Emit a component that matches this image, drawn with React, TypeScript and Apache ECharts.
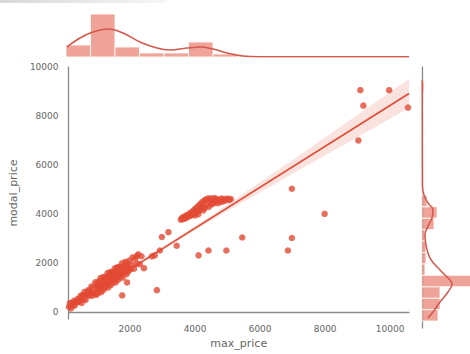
import React, { useEffect, useRef } from "react";
import * as echarts from "echarts";

// ---- data ----
const xRange = [107, 10580];
const yRange = [-275, 10000];

const lowCluster: number[][] = [
  [120,228],[150,375],[180,162],[210,369],[240,276],[270,471],[300,282],[330,441],[360,420],[390,555],
  [420,426],[450,525],[480,672],[510,379],[540,706],[570,533],[600,840],[630,507],[660,754],[690,701],
  [720,908],[750,675],[780,822],[810,1049],[840,676],[870,1003],[900,780],[930,1227],[960,714],[990,1071],
  [1010,969],[1030,1257],[1050,885],[1070,1083],[1090,1401],[1110,819],[1130,1287],[1150,1005],[1170,1443],[1190,921],
  [1210,1269],[1230,1167],[1250,1455],[1270,1083],[1290,1281],[1310,1599],[1330,1017],[1350,1485],[1370,1203],[1390,1641],
  [1410,1119],[1430,1467],[1450,1365],[1470,1653],[1490,1281],[1510,1479],[1530,1797],[1550,1215],[1570,1683],[1590,1401],
  [1610,1839],[1630,1317],[1650,1665],[1670,1563],[1690,1851],[1710,1479],[1730,1677],[1750,1995],[1770,1413],[1800,1890],
  [1830,1617],[1860,2064],[1890,1551],[1920,1908],[1950,1815],[1980,2112],[2010,1749],[2040,1956],[2080,2242],[2120,1778],
  [2160,2189],[2200,1975],[2250,2370],[2300,1965],[2350,2285],
  [980,1152],[1040,956],[1100,1160],[1160,1344],[1220,1018],[1280,1372],[1340,1306],[1400,1580],[1460,1214],[1520,1608],
  [1580,1462],[1640,1826],[1700,1530],[1760,1794],[1820,1728],[1880,1992],[1940,1666],[700,850],[820,778],[560,684],[1000,770]
];

const outliers: number[][] = [
  [1756,690],[1908,1220],[2824,905],[2214,2300],[2672,2283],[2427,1800],[2977,3070],[3180,3268],[3435,2716],[2916,2520],
  [2760,2323],[4107,2323],[4412,2520],[4962,2520],[5450,3050],[6977,5040],[7985,4016],[6977,3031],[6855,2520],
  [9084,9055],[9970,9055],[9176,8425],[10550,8346],[9023,7008]
];

const midCluster: number[][] = [
  [3560,3780],[3600,3850],[3630,3800],[3660,3900],[3700,3830],[3730,3950],[3760,3880],[3790,3990],[3820,3920],[3850,4050],
  [3880,3950],[3910,4100],[3940,4000],[3970,4180],[4000,4050],[4030,4250],[4060,4100],[4090,4320],[4120,4150],[4150,4400],
  [4180,4200],[4210,4480],[4240,4300],[4270,4550],[4300,4250],[4330,4600],[4360,4400],[4390,4640],[4420,4300],[4450,4520],
  [4480,4650],[4510,4400],[4540,4600],[4570,4450],[4600,4660],[4630,4500],[4660,4620],[4700,4450],[4740,4600],[4780,4500],
  [4820,4640],[4860,4520],[4900,4620],[4950,4560],[5000,4640],[5050,4580],[5100,4620],[4100,4000],[4000,3950],[4250,4150]
];

const regX = [107, 10580];
const regY = [185, 8920];
const bandX = [107, 1500, 3000, 4500, 6000, 7500, 9000, 10580];
const bandLo = [75, 1277, 2538, 3749, 4900, 6031, 7152, 8330];
const bandHi = [295, 1417, 2658, 3949, 5300, 6671, 8052, 9510];

// top marginal (max_price)
const topBinStart = 107;
const topBinWidth = 748;
const topCounts = [24, 86, 20, 8, 8, 30, 6, 2, 1, 1, 1, 1, 2, 2];
const topKdeX = [137, 534, 931, 1389, 1847, 2366, 2885, 3282, 3802, 4198, 4595, 5023, 5511, 6031, 8000, 10580];
const topKdeY = [20, 38, 50, 56, 48, 30, 18, 14, 18, 20, 16, 8, 2, 0.6, 0.5, 0.4];

// right marginal (modal_price)
const rightBinStart = 0;
const rightBinWidth = 450;
const rightCounts = [32, 36, 36, 110, 6, 8, 8, 6, 24, 30, 10, 2, 0, 0, 0, 2, 0, 0, 2, 0, 4];
const rightKdeY = [118, 354, 748, 1142, 1457, 1614, 2008, 2480, 2992, 3386, 3740, 4055, 4370, 4646, 4961, 5354, 7000, 9500];
const rightKdeX = [12, 22, 36, 52, 60, 56, 36, 16, 8, 6, 12, 20, 22, 12, 4, 0.8, 0.6, 0.5];

const tickLabels = [2000, 4000, 6000, 8000, 10000];

const RED = "#E24A33";
const HIST = "rgba(226,74,51,0.5)";
const KDE = "#d3574a";
const AXIS = "#8a8a8a";
const LABEL = "#666";

export default function App() {
  const ref = useRef<HTMLDivElement>(null);
  useEffect(() => {
    if (!ref.current) return;
    const chart = echarts.init(ref.current, null, { renderer: "svg" });
    const fmt = (v: number) => (tickLabels.indexOf(v) >= 0 || v === 0 ? String(v) : "");
    const topData = topCounts.map((c, i) => [topBinStart + i * topBinWidth, topBinStart + (i + 1) * topBinWidth, c]);
    const rightData = rightCounts.map((c, i) => [rightBinStart + i * rightBinWidth, rightBinStart + (i + 1) * rightBinWidth, c]);
    const scatterPoints = lowCluster.concat(midCluster, outliers);
    const option: any = {
      animation: false,
      grid: [
        { left: 66, top: 67, width: 343, height: 261 },
        { left: 66, top: 10, width: 343, height: 47 },
        { left: 422, top: 67, width: 60, height: 261 },
      ],
      xAxis: [
        {
          gridIndex: 0, type: "value", min: xRange[0], max: xRange[1],
          name: "max_price", nameLocation: "middle", nameGap: 15,
          nameTextStyle: { color: LABEL, fontSize: 11, fontFamily: "DejaVu Sans" },
          axisLine: { show: true, lineStyle: { color: AXIS, width: 1.3 } },
          axisTick: { show: false }, splitLine: { show: false },
          axisLabel: { formatter: fmt, color: LABEL, fontSize: 9, fontFamily: "DejaVu Sans", margin: 5 },
        },
        { gridIndex: 1, type: "value", min: xRange[0], max: xRange[1], show: false },
        { gridIndex: 2, type: "value", min: 0, max: 96, show: false },
      ],
      yAxis: [
        {
          gridIndex: 0, type: "value", min: yRange[0], max: yRange[1],
          name: "modal_price", nameLocation: "middle", nameGap: 42,
          nameTextStyle: { color: LABEL, fontSize: 11, fontFamily: "DejaVu Sans" },
          axisLine: { show: true, lineStyle: { color: AXIS, width: 1.3 } },
          axisTick: { show: false }, splitLine: { show: false },
          axisLabel: { formatter: fmt, color: LABEL, fontSize: 9, fontFamily: "DejaVu Sans", margin: 10 },
        },
        { gridIndex: 1, type: "value", min: 0, max: 94, show: false },
        {
          gridIndex: 2, type: "value", min: yRange[0], max: yRange[1],
          axisLine: { show: true, lineStyle: { color: AXIS, width: 1.3 } },
          axisTick: { show: false }, axisLabel: { show: false }, splitLine: { show: false },
        },
      ],
      graphic: [
        {
          type: "rect", shape: { x: 0, y: 0, width: 165, height: 3 },
          style: {
            fill: new echarts.graphic.LinearGradient(0, 0, 1, 0, [
              { offset: 0, color: "#d8d8d8" }, { offset: 1, color: "#f6f6f6" },
            ]),
          },
        },
      ],
      series: [
        {
          type: "custom", xAxisIndex: 0, yAxisIndex: 0, data: [[bandX[0], bandLo[0]]],
          silent: true, z: 1,
          renderItem: (params: any, api: any) => {
            const up = bandX.map((x, i) => api.coord([x, bandHi[i]]));
            const lo = bandX.map((x, i) => api.coord([x, bandLo[i]])).reverse();
            return { type: "polygon", shape: { points: up.concat(lo) }, style: { fill: "rgba(226,74,51,0.16)" } };
          },
        },
        {
          type: "scatter", xAxisIndex: 0, yAxisIndex: 0, data: scatterPoints,
          symbolSize: 6.5, itemStyle: { color: RED, opacity: 0.8 }, z: 2,
        },
        {
          type: "line", xAxisIndex: 0, yAxisIndex: 0, data: regX.map((x, i) => [x, regY[i]]),
          showSymbol: false, lineStyle: { color: RED, width: 1.6 }, z: 3,
        },
        {
          type: "custom", xAxisIndex: 1, yAxisIndex: 1, data: topData, encode: { x: [0, 1], y: 2 },
          renderItem: (params: any, api: any) => {
            const p0 = api.coord([api.value(0), 0]);
            const p1 = api.coord([api.value(1), api.value(2)]);
            return {
              type: "rect",
              shape: { x: p0[0], y: p1[1], width: p1[0] - p0[0], height: p0[1] - p1[1] },
              style: { fill: HIST, stroke: "#fff", lineWidth: 0.8 },
            };
          },
        },
        {
          type: "line", xAxisIndex: 1, yAxisIndex: 1, data: topKdeX.map((x, i) => [x, topKdeY[i]]),
          smooth: 0.4, showSymbol: false, lineStyle: { color: KDE, width: 1.5 }, z: 3,
        },
        {
          type: "custom", xAxisIndex: 2, yAxisIndex: 2, data: rightData, encode: { y: [0, 1], x: 2 },
          renderItem: (params: any, api: any) => {
            const p0 = api.coord([0, api.value(0)]);
            const p1 = api.coord([api.value(2), api.value(1)]);
            return {
              type: "rect",
              shape: { x: p0[0], y: p1[1], width: p1[0] - p0[0], height: p0[1] - p1[1] },
              style: { fill: HIST, stroke: "#fff", lineWidth: 0.8 },
            };
          },
        },
        {
          type: "line", xAxisIndex: 2, yAxisIndex: 2, data: rightKdeY.map((y, i) => [rightKdeX[i], y]),
          smooth: 0.4, showSymbol: false, lineStyle: { color: KDE, width: 1.5 }, z: 3,
        },
      ],
    };
    chart.setOption(option);
    return () => chart.dispose();
  }, []);
  return (
    <div
      ref={ref}
      style={{ position: "fixed", left: 0, top: 0, width: 470, height: 354, background: "#fff" }}
    />
  );
}
